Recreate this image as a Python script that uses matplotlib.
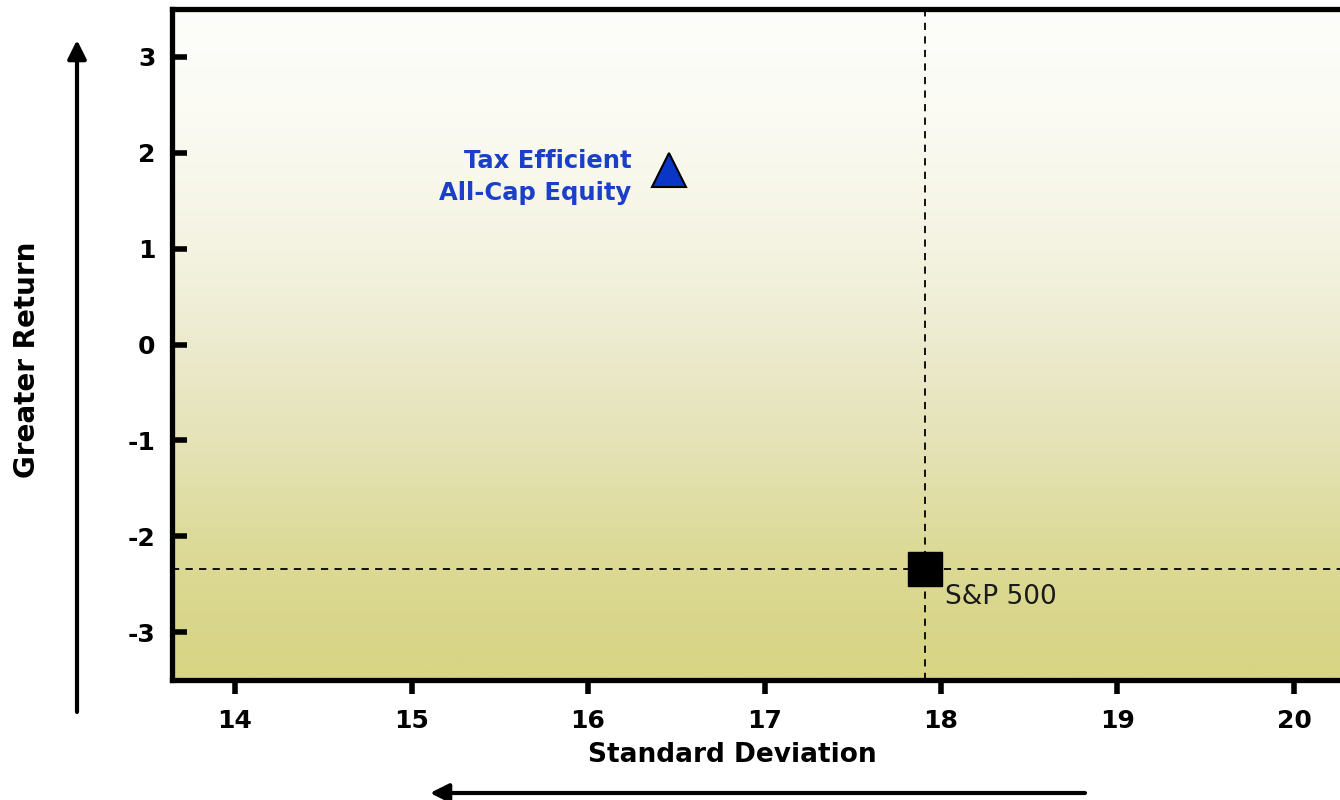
import numpy as np
import matplotlib.pyplot as plt
from matplotlib.colors import LinearSegmentedColormap

# data
names = ["Tax Efficient\nAll-Cap Equity", "S&P 500"]
std_dev = [16.46, 17.91]
returns = [1.82, -2.34]
x_ticks = [14, 15, 16, 17, 18, 19, 20]
y_ticks = [3, 2, 1, 0, -1, -2, -3]

fig = plt.figure(figsize=(13.4, 8), dpi=100)
ax = fig.add_axes([172 / 1340, 120 / 800, 1173 / 1340, 671 / 800])

# background gradient (top almost white -> olive yellow at bottom)
stops = [(0.0, (216/255, 213/255, 132/255)),
         (0.04, (216/255, 213/255, 135/255)),
         (0.19, (220/255, 218/255, 150/255)),
         (0.34, (228/255, 226/255, 180/255)),
         (0.49, (236/255, 234/255, 205/255)),
         (0.64, (244/255, 243/255, 225/255)),
         (0.85, (251/255, 251/255, 244/255)),
         (1.0, (253/255, 253/255, 251/255))]
cmap = LinearSegmentedColormap.from_list("bg", stops)
grad = np.linspace(0, 1, 256).reshape(-1, 1)
ax.imshow(grad, cmap=cmap, aspect="auto", origin="lower",
          extent=[0, 1, 0, 1], transform=ax.transAxes, zorder=0)

ax.set_xlim(13.643, 20.289)
ax.set_ylim(-3.5, 3.5)

# reference lines through the S&P 500
ax.axvline(std_dev[1], color="black", lw=1.3, ls=(0, (4, 3.5)), zorder=1)
ax.axhline(returns[1], color="black", lw=1.3, ls=(0, (4, 3.5)), zorder=1)

ax.plot(std_dev[0], returns[0], marker="^", ms=24, color="#0a36c8",
        mec="black", mew=1.5, ls="none", zorder=3)
ax.plot(std_dev[1], returns[1], marker="s", ms=24, color="black",
        ls="none", zorder=3)

ax.annotate(names[0], (std_dev[0], returns[0]), xytext=(-27, -5),
            textcoords="offset points", ha="right", va="center",
            color="#1a3fc8", fontsize=17.5, fontweight="bold", linespacing=1.4)
ax.annotate(names[1], (std_dev[1], returns[1]), xytext=(14, -20),
            textcoords="offset points", ha="left", va="center",
            color="#1a1a1a", fontsize=19)

ax.set_xticks(x_ticks)
ax.set_yticks(y_ticks)
ax.set_xticklabels([str(t) for t in x_ticks], fontsize=18, fontweight="bold")
ax.set_yticklabels([str(t) for t in y_ticks], fontsize=18, fontweight="bold")
ax.tick_params(axis="x", direction="out", length=10, width=4, pad=11)
ax.tick_params(axis="y", direction="in", length=11, width=4, pad=12)

for s in ["left", "bottom", "top"]:
    ax.spines[s].set_linewidth(3.8)
ax.spines["right"].set_visible(False)

fig.text(732 / 1340, 1 - 755 / 800, "Standard Deviation", ha="center",
         va="center", fontsize=19, fontweight="bold")
fig.text(27 / 1340, 1 - 360 / 800, "Greater Return", ha="center",
         va="center", rotation=90, fontsize=20, fontweight="bold")

# arrows outside the axes
arrow = dict(arrowstyle="-|>", lw=3, color="black", mutation_scale=28,
             shrinkA=0, shrinkB=0)
ax.annotate("", xy=(77, 760), xytext=(77, 88), xycoords="figure pixels",
            textcoords="figure pixels", arrowprops=arrow, annotation_clip=False)
ax.annotate("", xy=(430, 7), xytext=(1085, 7), xycoords="figure pixels",
            textcoords="figure pixels", arrowprops=arrow, annotation_clip=False)

fig.savefig("out.png", dpi=100)
